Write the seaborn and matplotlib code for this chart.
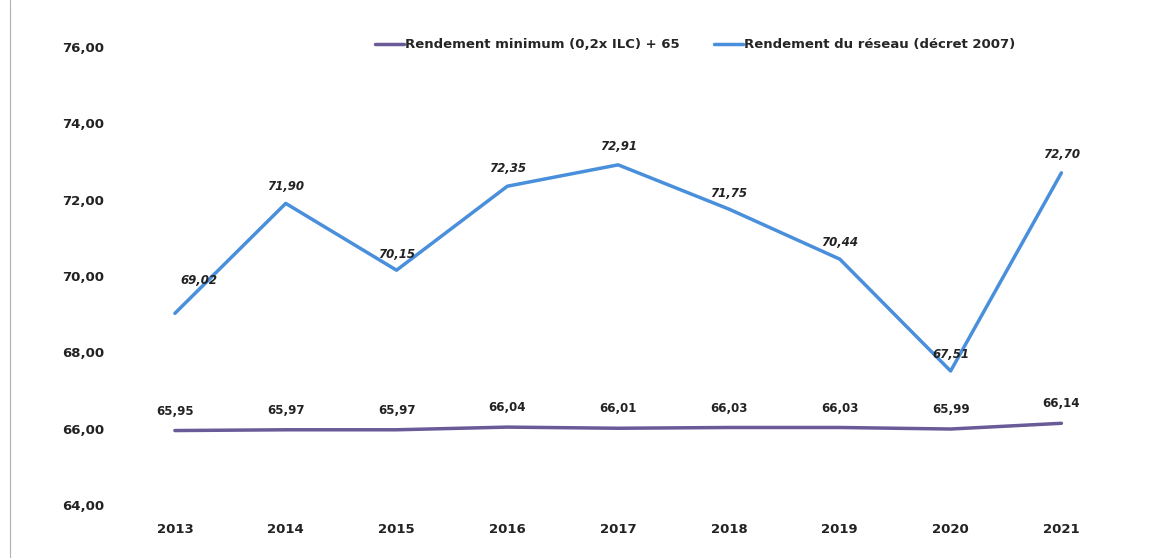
import pandas as pd
import matplotlib.pyplot as plt
import seaborn as sns
from matplotlib.lines import Line2D

years = [2013, 2014, 2015, 2016, 2017, 2018, 2019, 2020, 2021]
rendement_min = [65.95, 65.97, 65.97, 66.04, 66.01, 66.03, 66.03, 65.99, 66.14]
rendement_reseau = [69.02, 71.90, 70.15, 72.35, 72.91, 71.75, 70.44, 67.51, 72.70]
serie_min = "Rendement minimum (0,2x ILC) + 65"
serie_reseau = "Rendement du réseau (décret 2007)"
y_ticks = [64, 66, 68, 70, 72, 74, 76]

# décalage des étiquettes (points) : la première est déplacée dans l'original
decal_reseau = [(17, 24), (0, 12), (0, 11), (0, 13), (0, 13), (0, 11), (0, 12), (0, 12), (0, 13)]

df = pd.concat([
    pd.DataFrame({"annee": years, "valeur": rendement_min, "serie": serie_min}),
    pd.DataFrame({"annee": years, "valeur": rendement_reseau, "serie": serie_reseau}),
])

sns.set_style("white")
plt.rcParams['font.family'] = ['DejaVu Sans']

fig = plt.figure(figsize=(11.49, 5.58), dpi=100)
ax = fig.add_axes([0.104, 0.095, 0.868, 0.821])

palette = {serie_min: "#6a5b98", serie_reseau: "#4a8fdc"}
sns.lineplot(data=df, x="annee", y="valeur", hue="serie", palette=palette,
             linewidth=2.5, ax=ax, legend=False)

def fr(v):
    return f"{v:.2f}".replace(".", ",")

for x, v in zip(years, rendement_min):
    ax.annotate(fr(v), (x, v), xytext=(0, 14), textcoords="offset points",
                ha="center", va="center", fontsize=8.5, fontweight="bold", color="#222222")
for (x, v), (dx, dy) in zip(zip(years, rendement_reseau), decal_reseau):
    ax.annotate(fr(v), (x, v), xytext=(dx, dy), textcoords="offset points",
                ha="center", va="center", fontsize=8.5, fontweight="bold",
                fontstyle="italic", color="#222222")

ax.set_xlim(2012.5, 2021.5)
ax.set_ylim(64, 76)
ax.set_xticks(years)
ax.set_xticklabels([str(y) for y in years], fontsize=9.5, fontweight="bold", color="#222222")
ax.set_yticks(y_ticks)
ax.set_yticklabels([fr(t) for t in y_ticks], fontsize=9.5, fontweight="bold", color="#222222")
ax.tick_params(axis="y", pad=11, length=0)
ax.tick_params(axis="x", pad=13, length=0)
ax.set_xlabel("")
ax.set_ylabel("")
sns.despine(ax=ax, left=True, bottom=True)

handles = [Line2D([], [], color=palette[serie_min], lw=2.5),
           Line2D([], [], color=palette[serie_reseau], lw=2.5)]
fig.legend(handles, [serie_min, serie_reseau], loc="center", bbox_to_anchor=(0.605, 0.92),
           ncol=2, frameon=False, handlelength=2.2, handletextpad=0.1, columnspacing=2.6,
           prop={"weight": "bold", "size": 9.5})

fig.add_artist(Line2D([0.009, 0.009], [0.0, 1.0], color="#b0b0b0", lw=0.8))

fig.savefig("out.png", dpi=100)
